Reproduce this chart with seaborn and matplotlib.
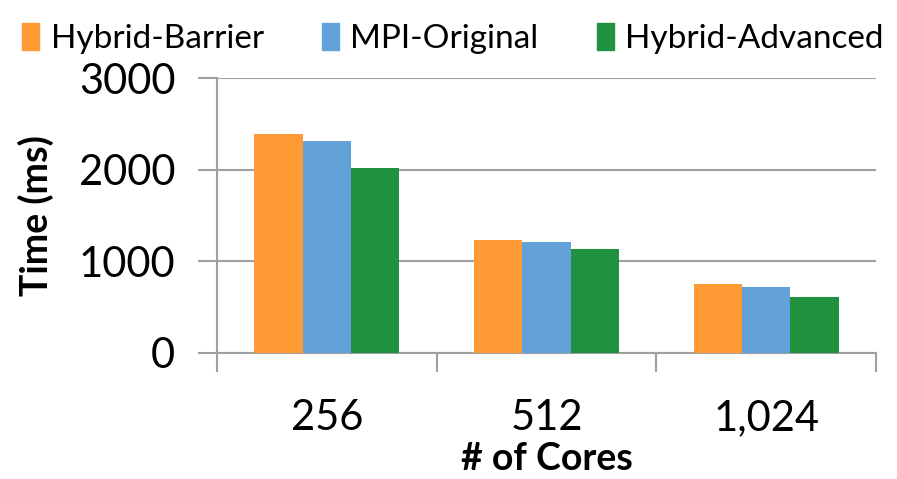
import matplotlib
matplotlib.use("Agg")
import matplotlib.pyplot as plt
import seaborn as sns
import pandas as pd

cores = ["256", "512", "1,024"]
series = ["Hybrid-Barrier", "MPI-Original", "Hybrid-Advanced"]
hybrid_barrier = [2390, 1230, 755]
mpi_original = [2310, 1215, 715]
hybrid_advanced = [2015, 1130, 615]
colors = ["#FF9A35", "#62A2D8", "#20913F"]

rows = []
for name, vals in zip(series, [hybrid_barrier, mpi_original, hybrid_advanced]):
    for c, v in zip(cores, vals):
        rows.append({"cores": c, "series": name, "time": v})
df = pd.DataFrame(rows)

sns.set_theme(style="white")
plt.rcParams["font.family"] = ["Lato", "DejaVu Sans"]
plt.rcParams["text.color"] = "black"
plt.rcParams["axes.labelcolor"] = "black"
plt.rcParams["xtick.color"] = "black"
plt.rcParams["ytick.color"] = "black"

fig = plt.figure(figsize=(8.97, 4.79), dpi=100)
ax = fig.add_axes([217 / 897, 1 - 353 / 479, (876 - 217) / 897, (353 - 78) / 479])

sns.barplot(data=df, x="cores", y="time", hue="series", order=cores,
            hue_order=series, palette=colors, width=0.66, ax=ax,
            saturation=1, edgecolor="none", legend=False, zorder=3)

grid_c = "#A0A0A0"
ax.set_ylim(0, 3000)
ax.set_xlim(-0.5, 2.5)
ax.set_yticks([0, 1000, 2000, 3000])
ax.yaxis.grid(True, color=grid_c, linewidth=1.5, zorder=0)
ax.set_axisbelow(True)
for s in ["top", "right"]:
    ax.spines[s].set_visible(False)
ax.spines["left"].set_color(grid_c)
ax.spines["left"].set_linewidth(1.5)
ax.spines["bottom"].set_color(grid_c)
ax.spines["bottom"].set_linewidth(1.5)

ax.tick_params(axis="y", which="major", length=14, width=1.5, color=grid_c,
               labelcolor="black", labelsize=30, pad=16, left=True)
ax.set_xticks([0, 1, 2])
ax.set_xticklabels(cores)
ax.set_xticks([-0.5, 0.5, 1.5, 2.5], minor=True)
ax.tick_params(axis="x", which="major", length=0, labelcolor="black",
               labelsize=30, pad=33)
ax.tick_params(axis="x", which="minor", length=14, width=1.5, color=grid_c,
               bottom=True)

ax.set_ylabel("Time (ms)", fontsize=27, fontweight="bold", labelpad=18)
ax.set_xlabel("# of Cores", fontsize=27, fontweight="bold", labelpad=4)

handles = [plt.Rectangle((0, 0), 1, 1, color=c) for c in colors]
fig.legend(handles, series, loc="upper center", bbox_to_anchor=(0.505, 1.015),
           ncol=3, frameon=False, fontsize=24, handlelength=0.5,
           handleheight=0.9, handletextpad=0.35, columnspacing=1.75)

fig.savefig("out.png", dpi=100)
